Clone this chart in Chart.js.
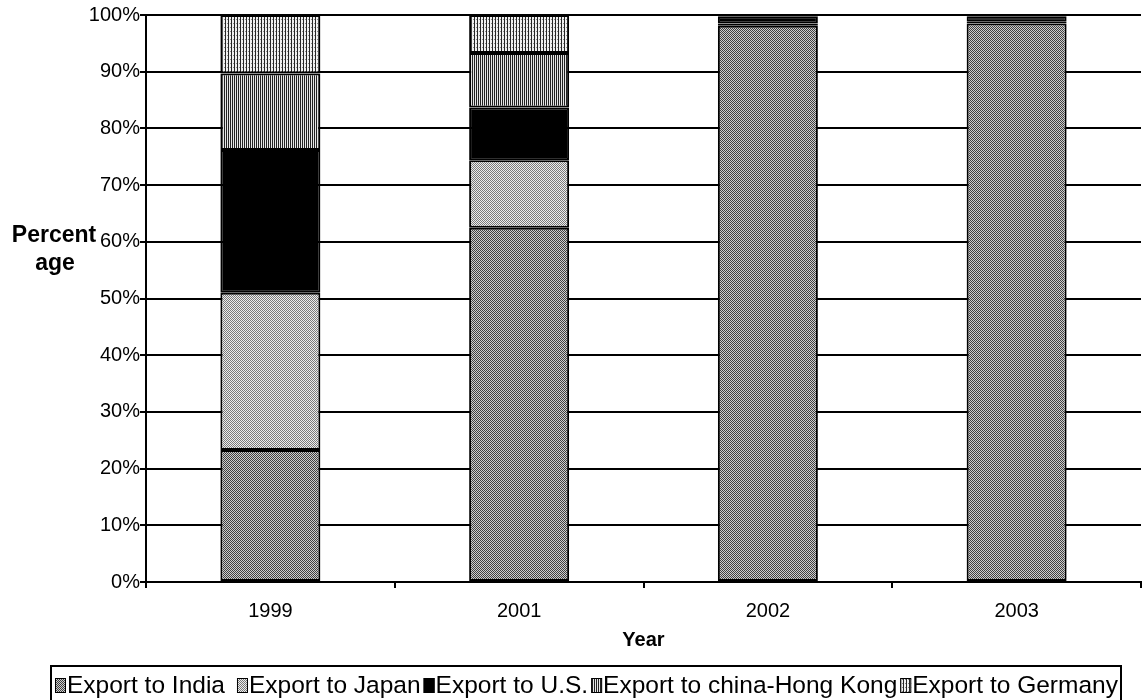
<!DOCTYPE html>
<html><head><meta charset="utf-8">
<script src="https://cdn.jsdelivr.net/npm/chart.js@4/dist/chart.umd.min.js"></script>
<style>html,body{margin:0;padding:0;background:#fff}#wrap{width:1142px;height:700px;position:relative}</style>
</head><body><div id="wrap"><canvas id="c" width="1142" height="700"></canvas></div>
<script>
const years = ['1999', '2001', '2002', '2003'];
const seriesNames = ['Export to India', 'Export to Japan', 'Export to U.S.', 'Export to china-Hong Kong', 'Export to Germany'];
const india = [23.3, 62.5, 98.1, 98.5];
const japan = [27.7, 11.9, 0.4, 0.3];
const us = [25.2, 9.3, 1.3, 1.0];
const hongKong = [13.5, 9.6, 0.1, 0.1];
const germany = [10.3, 6.7, 0.1, 0.1];
const yTickLabels = ['0%', '10%', '20%', '30%', '40%', '50%', '60%', '70%', '80%', '90%', '100%'];
const xTitle = 'Year';
const yTitleLines = ['Percent', 'age'];

const FONT = "'Liberation Sans', Arial, sans-serif";
const canvas = document.getElementById('c');
const ctx = canvas.getContext('2d');

function makePattern(w, h, draw) {
  const c = document.createElement('canvas');
  c.width = w; c.height = h;
  const x = c.getContext('2d');
  draw(x);
  return ctx.createPattern(c, 'repeat');
}
const patIndia = makePattern(2, 2, x => {
  x.fillStyle = '#cdcdcd'; x.fillRect(0, 0, 2, 2);
  x.fillStyle = '#404040'; x.fillRect(0, 0, 1, 1); x.fillRect(1, 1, 1, 1);
});
const patJapan = makePattern(2, 2, x => {
  x.fillStyle = '#ededed'; x.fillRect(0, 0, 2, 2);
  x.fillStyle = '#7a7a7a'; x.fillRect(0, 0, 1, 1); x.fillRect(1, 1, 1, 1);
});
const patHK = makePattern(2, 1, x => {
  x.fillStyle = '#e6e6e6'; x.fillRect(0, 0, 2, 1);
  x.fillStyle = '#222222'; x.fillRect(0, 0, 1, 1);
});
const patGermany = makePattern(3, 4, x => {
  x.fillStyle = '#f0f0f0'; x.fillRect(0, 0, 3, 4);
  x.fillStyle = '#262626'; x.fillRect(0, 0, 1, 4);
  x.fillStyle = '#8a8a8a'; x.fillRect(2, 3, 1, 1);
});

const seriesValues = [india, japan, us, hongKong, germany];
const seriesFills = [patIndia, patJapan, '#000000', patHK, patGermany];

const datasets = seriesNames.map((name, i) => ({
  label: name,
  data: seriesValues[i],
  backgroundColor: seriesFills[i],
  borderColor: '#000',
  borderWidth: 2,
  borderSkipped: false,
  barPercentage: 0.402,
  categoryPercentage: 1.0,
  stack: 's'
}));

const LEGEND_FS = 24.5;

const extras = {
  id: 'extras',
  afterDraw(chart) {
    const c = chart.ctx;
    c.save();
    // y axis title (horizontal)
    c.fillStyle = '#000';
    c.font = 'bold 23px ' + FONT;
    c.textAlign = 'center';
    c.textBaseline = 'alphabetic';
    c.fillText(yTitleLines[0], 54, 242);
    c.fillText(yTitleLines[1], 55, 270);

    // legend, drawn from the chart's datasets
    c.font = LEGEND_FS + 'px ' + FONT;
    c.textAlign = 'left';
    const items = chart.data.datasets.map(ds => ({ text: ds.label, fill: ds.backgroundColor, w: c.measureText(ds.label).width }));
    const boxW = 11, boxGap = 1;
    const gaps = [12, 3, 3, 3, 0];
    let total = 0;
    items.forEach((it, i) => { total += boxW + boxGap + it.w + gaps[i]; });
    const rightBorder = 1121;
    let x = Math.round(rightBorder - 3 - total);
    const baseline = 693;
    const L = x - 4;
    items.forEach((it, i) => {
      c.fillStyle = it.fill;
      c.fillRect(x, baseline - 15, boxW, 15);
      c.strokeStyle = '#000';
      c.lineWidth = 1;
      c.strokeRect(x + 0.5, baseline - 15 + 0.5, boxW - 1, 14);
      c.fillStyle = '#000';
      c.fillText(it.text, x + boxW + boxGap, baseline);
      x += boxW + boxGap + it.w + gaps[i];
    });
    c.strokeStyle = '#000';
    c.lineWidth = 2;
    c.strokeRect(L, 666, rightBorder - L, 40);
    c.restore();
  }
};

new Chart(canvas, {
  type: 'bar',
  data: { labels: years, datasets },
  options: {
    responsive: false,
    animation: false,
    devicePixelRatio: 1,
    layout: { padding: { left: 36, right: 1, top: 15, bottom: 40 } },
    plugins: {
      tooltip: { enabled: false },
      title: { display: false },
      legend: { display: false }
    },
    scales: {
      x: {
        stacked: true,
        afterFit(scale) { scale.height = 78; },
        grid: { display: true, drawOnChartArea: false, drawTicks: true, tickLength: 6, color: '#000', lineWidth: 2, offset: true },
        border: { display: true, color: '#000', width: 2 },
        ticks: { color: '#000', font: { family: FONT, size: 20 }, padding: 11, maxRotation: 0 },
        title: { display: true, text: xTitle, color: '#000', font: { family: FONT, size: 20, weight: 'bold' }, padding: { top: 0, bottom: 8 } }
      },
      y: {
        stacked: true,
        min: 0,
        max: 100,
        afterFit(scale) { scale.width = 110; },
        grid: { display: true, color: '#000', lineWidth: 2, drawTicks: true, tickLength: 6 },
        border: { display: true, color: '#000', width: 2 },
        ticks: {
          stepSize: 10,
          color: '#000',
          padding: 0,
          font: { family: FONT, size: 20 },
          callback: (v) => yTickLabels[Math.round(v / 10)]
        }
      }
    }
  },
  plugins: [extras]
});
</script>
</body></html>
